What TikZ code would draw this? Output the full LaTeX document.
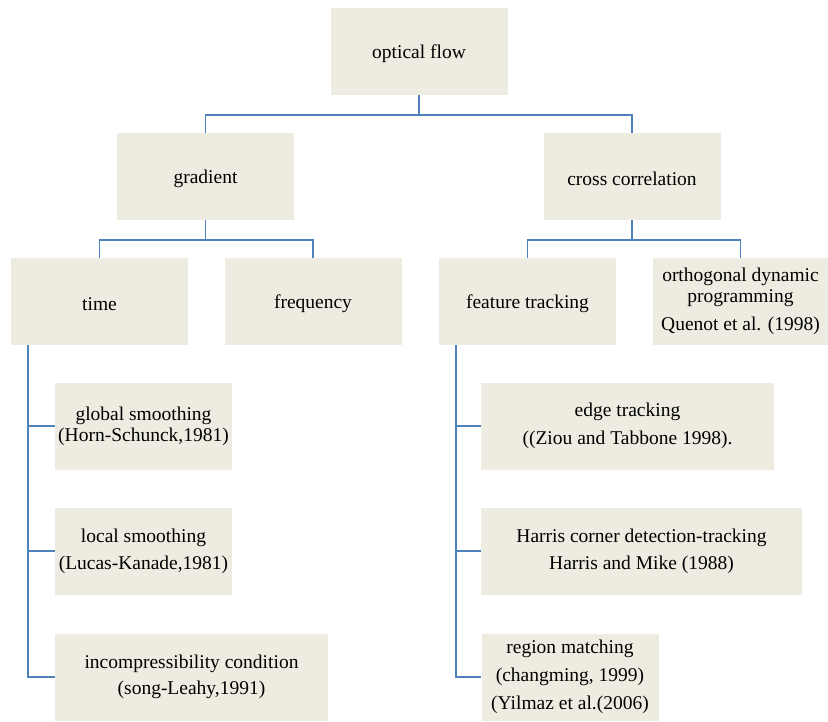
\documentclass[tikz,border=0pt]{standalone}
\usepackage{fontspec}
\setmainfont{Liberation Serif}
\usepackage{tikz}

\definecolor{boxtan}{RGB}{238,236,225}
\definecolor{linkblue}{RGB}{79,129,189}

\tikzset{
  topic/.style={fill=boxtan, minimum width=177pt, minimum height=87pt, inner sep=0pt,
    align=center, font=\fontsize{19.5}{21}\selectfont,
    execute at begin node={\rule{0pt}{17.5pt}}},
  link/.style={draw=linkblue, line width=1.6pt}
}

\begin{document}
\begin{tikzpicture}[x=1pt, y=-1pt]
    \useasboundingbox (0,0) rectangle (828,721);
    % Top level
    \node[topic] (flow) at (419,51.5) {optical flow};
    % Second level
    \node[topic] (grad) at (205.5,176.5) {gradient};
    \node[topic] (cross) at (632,176.5) {cross correlation};
    % Third level
    \node[topic] (time) at (99.5,301.5) {time};
    \node[topic] (freq) at (313,301.5) {frequency};
    \node[topic] (feat) at (527.5,301.5) {feature tracking};
    \node[topic, minimum width=175pt] (ortho) at (740.5,301.5) {orthogonal dynamic\\programming\\[7pt]Quenot et al. (1998)};
    % Methods under time
    \node[topic] (glob) at (143.5,426) {global smoothing\\(Horn-Schunck,1981)};
    \node[topic] (loc) at (143.5,551) {local smoothing\\[6pt](Lucas-Kanade,1981)};
    \node[topic, minimum width=273pt] (incomp) at (191.5,677) {incompressibility condition\\[5pt](song-Leahy,1991)};
    % Methods under feature tracking
    \node[topic, minimum width=293pt] (edge) at (627.5,426) {edge tracking\\[7pt]((Ziou and Tabbone 1998).};
    \node[topic, minimum width=321pt] (harris) at (641.5,551) {Harris corner detection-tracking\\[6pt]Harris and Mike (1988)};
    \node[topic] (region) at (570,677) {region matching\\[7pt](changming, 1999)\\[7pt](Yilmaz et al.(2006)};
    % Tree connectors
    \draw[link] (flow.south) -- ++(0,20) coordinate (fj);
    \draw[link] (grad.north) |- (fj) -| (cross.north);
    \draw[link] (grad.south) -- ++(0,20) coordinate (gj);
    \draw[link] (time.north) |- (gj) -| (freq.north);
    \draw[link] (cross.south) -- ++(0,20) coordinate (cj);
    \draw[link] (feat.north) |- (cj) -| (ortho.north);
    % Side rails
    \coordinate (tleg) at ([xshift=17pt]time.south west);
    \draw[link] (tleg) |- (incomp.west);
    \draw[link] (glob.west) -- (glob.west -| tleg);
    \draw[link] (loc.west) -- (loc.west -| tleg);
    \coordinate (fleg) at ([xshift=17pt]feat.south west);
    \draw[link] (fleg) |- (region.west);
    \draw[link] (edge.west) -- (edge.west -| fleg);
    \draw[link] (harris.west) -- (harris.west -| fleg);
\end{tikzpicture}
\end{document}
